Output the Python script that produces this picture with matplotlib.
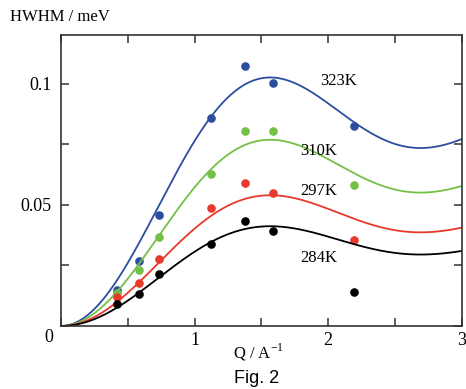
import numpy as np
import matplotlib.pyplot as plt
from matplotlib.ticker import MultipleLocator

plt.rcParams['font.family'] = ['Liberation Serif', 'DejaVu Serif']
plt.rcParams['mathtext.fontset'] = 'custom'
plt.rcParams['mathtext.rm'] = 'Liberation Serif'

# measured HWHM points (Q in 1/A, HWHM in meV)
q_data = [0.417, 0.58, 0.73, 1.12, 1.38, 1.59, 2.19]
hwhm_323 = [0.0148, 0.0269, 0.0457, 0.0857, 0.1074, 0.1003, 0.0823]
hwhm_310 = [0.0135, 0.0230, 0.0368, 0.0628, 0.0804, 0.0804, 0.0583]
hwhm_297 = [0.0118, 0.0178, 0.0276, 0.0488, 0.0590, 0.0549, 0.0354]
hwhm_284 = [0.0091, 0.0132, 0.0213, 0.0340, 0.0432, 0.0392, 0.0139]

# Chudley-Elliott fit parameters
jump_d = 2.87
gamma0 = {'323K': 0.0842, '310K': 0.0631, '297K': 0.0443, '284K': 0.0338}

temps = ['323K', '310K', '297K', '284K']
colors = {'323K': '#2b4e9e', '310K': '#74c046', '297K': '#e8392d', '284K': '#000000'}
points = {'323K': hwhm_323, '310K': hwhm_310, '297K': hwhm_297, '284K': hwhm_284}
label_pos = {'323K': (2.08, 0.101), '310K': (1.93, 0.072), '297K': (1.93, 0.0555), '284K': (1.93, 0.0280)}

fig = plt.figure(figsize=(4.66, 3.89), dpi=100)
ax = fig.add_axes([0.131, 0.162, 0.86, 0.748])

q = np.linspace(0.001, 3, 400)
for t in temps:
    qd = q * jump_d
    ax.plot(q, gamma0[t] * (1 - np.sin(qd) / qd), color=colors[t], lw=1.3)
    ax.plot(q_data, points[t], 'o', color=colors[t], ms=6.2, mec='none')
    ax.text(label_pos[t][0], label_pos[t][1], t, fontsize=12, ha='center', va='center')

ax.set_xlim(0, 3)
ax.set_ylim(0, 0.12)
ax.xaxis.set_major_locator(MultipleLocator(1))
ax.xaxis.set_minor_locator(MultipleLocator(0.5))
ax.yaxis.set_major_locator(MultipleLocator(0.05))
ax.yaxis.set_minor_locator(MultipleLocator(0.025))
ax.tick_params(which='both', direction='in', top=True, right=True, width=1.1, color='#333333')
ax.tick_params(which='major', length=6, labelsize=13)
ax.tick_params(which='minor', length=6)
ax.tick_params(axis='y', pad=7)
ax.tick_params(axis='x', pad=4)
ax.set_xticks([0, 1, 2, 3])
ax.set_xticklabels(['', '1', '2', '3'])
ax.set_yticks([0, 0.05, 0.1])
ax.set_yticklabels(['', '0.05', '0.1'])
for s in ax.spines.values():
    s.set_linewidth(1.2)
    s.set_color('#333333')

ax.text(-0.03, -0.038, '0', transform=ax.transAxes, fontsize=13, ha='center', va='center')
fig.text(0.022, 0.956, 'HWHM / meV', fontsize=12, ha='left', va='center')
fig.text(0.555, 0.095, 'Q / A$^{\\mathregular{-1}}$', fontsize=12, ha='center', va='center')
fig.text(0.55, 0.028, 'Fig. 2', fontsize=13, ha='center', va='center', family='Liberation Sans')

fig.savefig('out.png', dpi=100)
